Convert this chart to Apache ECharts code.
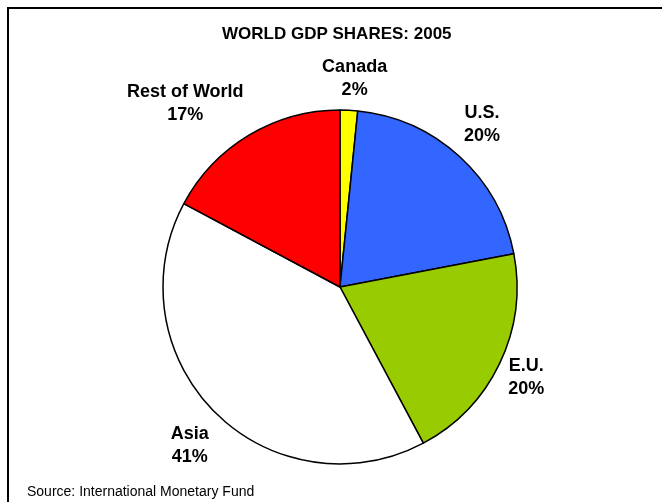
<!DOCTYPE html>
<html>
<head>
<meta charset="utf-8">
<script src="https://cdn.jsdelivr.net/npm/echarts@6/dist/echarts.min.js"></script>
<style>
  html, body { margin: 0; padding: 0; background: #fff; }
  #chart { width: 662px; height: 502px; }
</style>
</head>
<body>
<div id="chart"></div>
<script>
const regions = ['Canada', 'U.S.', 'E.U.', 'Asia', 'Rest of World'];
const shares = [1.6, 20.4, 20.2, 40.6, 17.2];
const shareLabels = ['2%', '20%', '20%', '41%', '17%'];
const colors = ['#FFFF00', '#3366FF', '#99CC00', '#FFFFFF', '#FF0000'];
// small label shifts (px) on top of the outside placement
const labelShift = [[4, 3], [-4, -3], [-6, -1], [3, 5], [-33, 20]];

const CX = 340, CY = 287, R = 177, GAP = 10;
const total = shares.reduce((a, b) => a + b, 0);
const starts = [];
let acc = 0;
shares.forEach((v) => { starts.push(acc); acc += v; });

const myChart = echarts.init(document.getElementById('chart'));

const option = {
  backgroundColor: '#fff',
  animation: false,
  title: {
    text: 'WORLD GDP SHARES: 2005',
    left: 217,
    top: 21,
    textStyle: { fontFamily: 'Liberation Sans', fontWeight: 'bold', fontSize: 17, color: '#000' },
  },
  graphic: [
    {
      type: 'rect',
      shape: { x: 8, y: 8, width: 700, height: 600 },
      style: { fill: 'none', stroke: '#000', lineWidth: 2 },
    },
    {
      type: 'text',
      left: 27,
      top: 485,
      style: {
        text: 'Source: International Monetary Fund',
        font: '14px "Liberation Sans"',
        fill: '#000',
      },
    },
  ],
  series: [
    {
      type: 'pie',
      center: [CX, CY],
      radius: R,
      startAngle: 90,
      clockwise: true,
      label: {
        show: true,
        position: 'outside',
        formatter: (p) => p.name + '\n' + shareLabels[p.dataIndex],
        fontFamily: 'Liberation Sans',
        fontWeight: 'bold',
        fontSize: 18,
        lineHeight: 23,
        color: '#000',
        align: 'center',
      },
      labelLine: { show: false },
      labelLayout: function (p) {
        const i = p.dataIndex;
        const mid = (starts[i] + shares[i] / 2) / total * Math.PI * 2;
        const ux = Math.sin(mid), uy = -Math.cos(mid);
        const w = p.labelRect.width, h = p.labelRect.height;
        const d = R + GAP + Math.abs(ux) * w / 2 + Math.abs(uy) * h / 2;
        return {
          x: CX + ux * d + labelShift[i][0],
          y: CY + uy * d + labelShift[i][1],
          align: 'center',
          verticalAlign: 'middle',
        };
      },
      itemStyle: { borderColor: '#000', borderWidth: 1.5 },
      emphasis: { disabled: true },
      data: regions.map((name, i) => ({
        name: name,
        value: shares[i],
        itemStyle: { color: colors[i] },
      })),
    },
  ],
};

option && myChart.setOption(option);
</script>
</body>
</html>
